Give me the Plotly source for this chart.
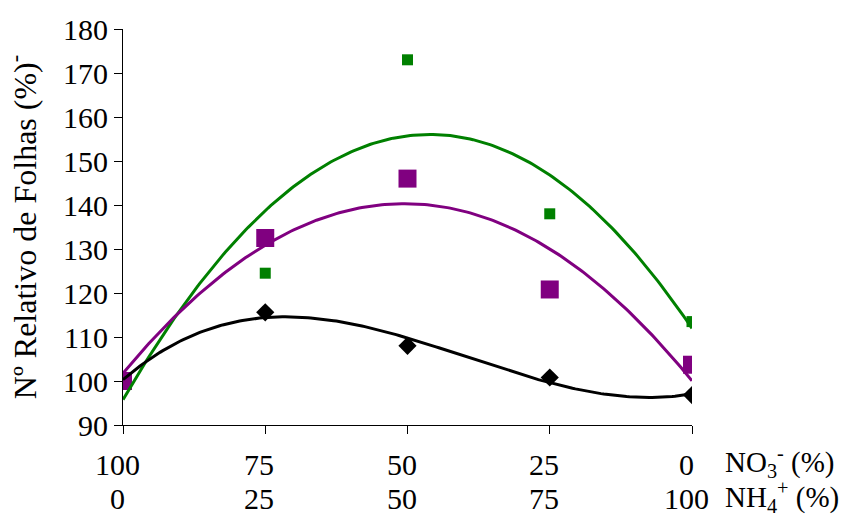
import numpy as np
import plotly.graph_objects as go

# Data
no3_pct = [100, 75, 50, 25, 0]
nh4_pct = [0, 25, 50, 75, 100]
green_vals = [100.0, 124.5, 173.0, 138.0, 113.5]
purple_vals = [100.0, 132.5, 146.0, 120.8, 103.7]
black_vals = [100.0, 115.6, 108.0, 100.8, 96.8]
y_ticks = [90, 100, 110, 120, 130, 140, 150, 160, 170, 180]

FONT = "Liberation Serif, Times New Roman, serif"
FS = 30

def trend(xs, ys, deg):
    c = np.polyfit(xs, ys, deg)
    xx = np.linspace(100, 0, 201)
    return xx, np.polyval(c, xx)

fig = go.Figure()

# markers
fig.add_trace(go.Scatter(x=no3_pct, y=black_vals, mode="markers",
                         marker=dict(symbol="diamond", size=14, color="black"), showlegend=False))
fig.add_trace(go.Scatter(x=no3_pct, y=green_vals, mode="markers",
                         marker=dict(symbol="square", size=11, color="#008000"), showlegend=False))
fig.add_trace(go.Scatter(x=no3_pct, y=purple_vals, mode="markers",
                         marker=dict(symbol="square", size=18, color="#800080"), showlegend=False))

# trend lines (polynomial fits of the data)
for vals, deg, col in [(green_vals, 2, "#008000"), (purple_vals, 2, "#800080"), (black_vals, 3, "black")]:
    xx, yy = trend(no3_pct, vals, deg)
    fig.add_trace(go.Scatter(x=xx, y=yy, mode="lines", line=dict(color=col, width=3),
                             showlegend=False, hoverinfo="skip"))

tf = dict(family=FONT, size=FS, color="black")
uf = dict(family=FONT, size=29, color="black")
annotations = []
for x, a, b in zip(no3_pct, no3_pct, nh4_pct):
    annotations.append(dict(x=x, y=-0.10, xref="x", yref="paper", text=str(a), showarrow=False,
                            xanchor="center", yanchor="middle", xshift=-6, font=tf))
    annotations.append(dict(x=x, y=-0.186, xref="x", yref="paper", text=str(b), showarrow=False,
                            xanchor="center", yanchor="middle", xshift=-6, font=tf))
annotations.append(dict(x=1.0, y=-0.094, xref="paper", yref="paper", xanchor="left", yanchor="middle",
                        text="NO<sub>3</sub><sup>-</sup> (%)", showarrow=False, xshift=31, font=uf))
annotations.append(dict(x=1.0, y=-0.183, xref="paper", yref="paper", xanchor="left", yanchor="middle",
                        text="NH<sub>4</sub><sup>+</sup> (%)", showarrow=False, xshift=31, font=uf))

fig.update_layout(
    width=849, height=517,
    margin=dict(l=123, r=157, t=25, b=92),
    paper_bgcolor="white", plot_bgcolor="white",
    font=dict(family=FONT, size=FS, color="black"),
    xaxis=dict(range=[100, 0], showgrid=False, zeroline=False, showline=True,
               linecolor="black", linewidth=1, ticks="outside", ticklen=8,
               tickcolor="black", tickvals=no3_pct, showticklabels=False),
    yaxis=dict(range=[90, 180], showgrid=False, zeroline=False, showline=True,
               linecolor="black", linewidth=1, ticks="outside", ticklen=8,
               tickcolor="black", tickvals=y_ticks, tickfont=tf,
               title=dict(text="Nº Relativo de Folhas (%)<sup>-</sup>", standoff=16,
                          font=dict(family=FONT, size=32, color="black"))),
    annotations=annotations,
)

fig.write_html("out.html", config={"displayModeBar": False},
               post_script="document.body.style.margin='0';")
